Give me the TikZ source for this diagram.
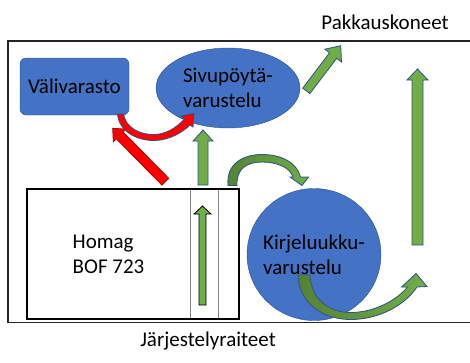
\documentclass[tikz,border=0pt]{standalone}
\usepackage{fontspec}
\setmainfont{Carlito}
\usepackage{tikz}
\usetikzlibrary{shapes.geometric}
\definecolor{mblue}{RGB}{68, 114, 196}
\definecolor{mline}{RGB}{47, 82, 143}
\definecolor{mgreen}{RGB}{112, 173, 71}
\definecolor{mdgreen}{RGB}{84, 130, 53}
\definecolor{mred}{RGB}{255, 0, 0}
\tikzset{storebox/.style = {rectangle, rounded corners=6, draw=mline, fill=mblue,
                            minimum width=109, minimum height=57, inner sep=0},
         station/.style = {ellipse, draw=mline, fill=mblue, inner sep=0, align=left},
         lane/.style = {rectangle, draw=gray, minimum height=130, inner sep=0},
         frameline/.style = {line width=1.8, draw=black!85},
         garrow/.style = {fill=mgreen, draw=mline, line width=0.8},
         rarrow/.style = {fill=mred, draw=mline, line width=0.8}}

\begin{document}
\begin{tikzpicture}[x=1pt, y=-1pt, font=\fontsize{21}{25}\selectfont]
    \useasboundingbox (0, 0) rectangle (470, 362);
    \draw [frameline] (470, 41) -- (8, 41) -- (8, 322.5) -- (470, 322.5);

    \node (pakkaus) at (385, 22) {Pakkauskoneet};
    \node (jarjestely) at (208, 341) {Järjestelyraiteet};

    \node (valivarasto) [storebox] at (74.5, 86.5) {Välivarasto};
    \node (sivupoyta) [station, minimum width=144, minimum height=80] at (228, 88) {Sivupöytä-\\varustelu};
    \node (kirjeluukku) [station, inner xsep=-10, minimum width=134, minimum height=132] at (314, 254.5) {Kirjeluukku-\\varustelu};

    \node (homag) [minimum width=163, minimum height=130, align=left] at (108.5, 254) {Homag\\BOF 723};
    \node (lane1) [lane, minimum width=28] at (204, 254) {};
    \node (lane2) [lane, minimum width=21] at (228.5, 254) {};
    \draw [line width=1.6] (homag.north west) rectangle (lane2.south east);

    \filldraw [garrow] (198, 185) -- (198, 141) -- (193, 141) -- (203, 130) -- (213, 141) -- (208, 141) -- (208, 185) -- cycle;
    \filldraw [garrow, draw=black] (199, 305) -- (199, 214) -- (194, 214) -- (202.5, 206) -- (211, 214) -- (206, 214) -- (206, 305) -- cycle;
    \filldraw [garrow] (412, 245) -- (412, 80) -- (407, 80) -- (417.5, 69) -- (428, 80) -- (423, 80) -- (423, 245) -- cycle;
    \filldraw [garrow] (302.7, 88.1) -- (329.5, 52.9) -- (324.8, 49.2) -- (340.7, 45.7) -- (341.5, 62) -- (336.7, 58.3) -- (309.9, 93.5) -- cycle;
    \filldraw [rarrow, draw=red!70!black] (161.9, 185.1) -- (116.3, 138.8) -- (113.3, 141.7) -- (112.7, 128.3) -- (126.1, 129.1) -- (123.1, 132) -- (168.7, 178.3) -- cycle;

    \filldraw [rarrow] (117.5, 114) .. controls (119, 132) and (138, 141) .. (155, 140.5)
        .. controls (170, 140) and (183, 132) .. (190, 125) -- (193, 127) -- (194, 113.5) -- (181, 116) -- (184.5, 119)
        .. controls (176, 128) and (166, 134) .. (155, 134.5) .. controls (140, 135) and (126, 128) .. (123.5, 114) -- cycle;
    \shadedraw [garrow, left color=mdgreen, right color=mgreen] (228, 185.5) .. controls (226, 163) and (244, 154.5) .. (262, 154.5)
        .. controls (282, 154.5) and (297, 163) .. (300.5, 177) -- (308.5, 177) -- (302, 185.5) -- (290, 177) -- (293, 177)
        .. controls (290, 167) and (276, 162) .. (262, 162) .. controls (248, 162) and (236, 168) .. (237, 185.5) -- cycle;
    \shadedraw [garrow, left color=mdgreen, right color=mgreen] (298, 275) .. controls (299, 305) and (325, 320) .. (352, 319.5)
        .. controls (380, 319) and (405, 305) .. (417, 287) -- (427, 286.5) -- (416, 273.5) -- (401.5, 287) -- (407.5, 287)
        .. controls (397, 300) and (375, 312) .. (352, 312.5) .. controls (330, 313) and (311, 300) .. (310, 275) -- cycle;
\end{tikzpicture}
\end{document}
